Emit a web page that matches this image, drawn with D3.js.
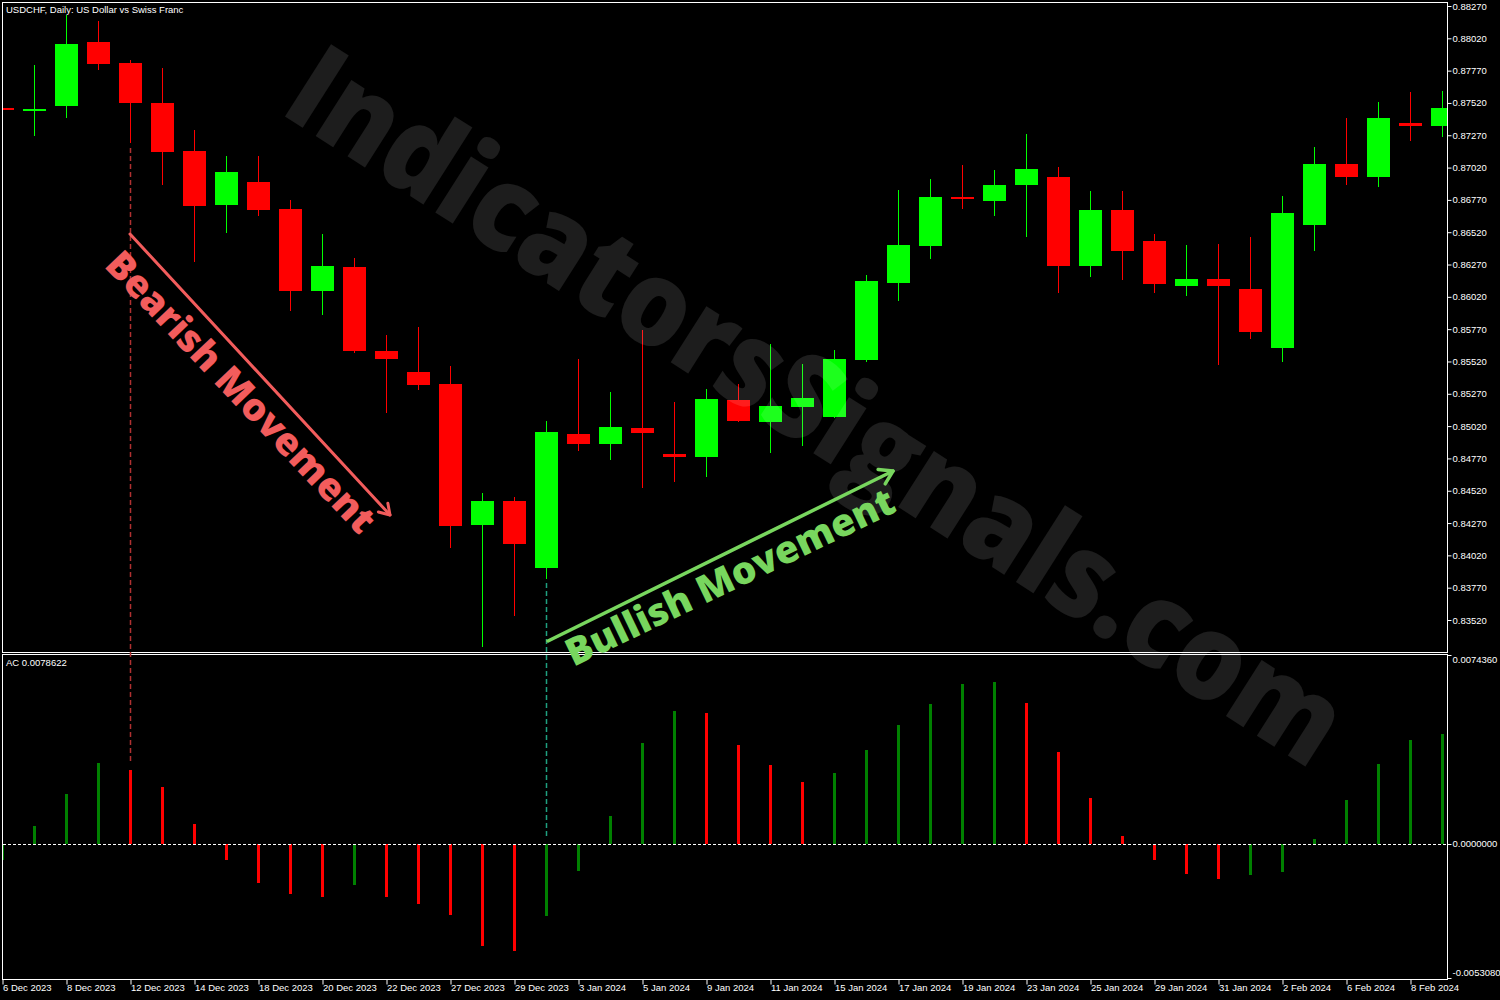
<!DOCTYPE html>
<html><head><meta charset="utf-8">
<script src="https://cdn.jsdelivr.net/npm/d3@7"></script>
<style>html,body{margin:0;padding:0;background:#000;} svg{display:block}</style>
</head><body>
<svg id="c" width="1500" height="1000"></svg>
<script>
const dates = ["6 Dec 2023","7 Dec 2023","8 Dec 2023","11 Dec 2023","12 Dec 2023","13 Dec 2023","14 Dec 2023","15 Dec 2023","18 Dec 2023","19 Dec 2023","20 Dec 2023","21 Dec 2023","22 Dec 2023","26 Dec 2023","27 Dec 2023","28 Dec 2023","29 Dec 2023","2 Jan 2024","3 Jan 2024","4 Jan 2024","5 Jan 2024","8 Jan 2024","9 Jan 2024","10 Jan 2024","11 Jan 2024","12 Jan 2024","15 Jan 2024","16 Jan 2024","17 Jan 2024","18 Jan 2024","19 Jan 2024","22 Jan 2024","23 Jan 2024","24 Jan 2024","25 Jan 2024","26 Jan 2024","29 Jan 2024","30 Jan 2024","31 Jan 2024","1 Feb 2024","2 Feb 2024","5 Feb 2024","6 Feb 2024","7 Feb 2024","8 Feb 2024","9 Feb 2024"];
const openP = [0.87481,0.87458,0.87496,0.87992,0.87829,0.87520,0.87148,0.86731,0.86909,0.86700,0.86066,0.86251,0.85601,0.85439,0.85346,0.84256,0.84441,0.83923,0.84959,0.84882,0.85006,0.84805,0.84782,0.85222,0.85052,0.85168,0.85091,0.85532,0.86127,0.86414,0.86793,0.86762,0.86885,0.86947,0.86259,0.86692,0.86452,0.86104,0.86158,0.86081,0.85625,0.86576,0.87048,0.86947,0.87365,0.87342];
const highP = [0.87485,0.87814,0.88200,0.88154,0.87852,0.87790,0.87311,0.87110,0.87110,0.86769,0.86506,0.86321,0.85725,0.85787,0.85485,0.84503,0.84472,0.85060,0.85540,0.85284,0.85764,0.85207,0.85307,0.85346,0.85656,0.85501,0.85609,0.86189,0.86847,0.86932,0.87040,0.87001,0.87280,0.87025,0.86839,0.86839,0.86506,0.86421,0.86429,0.86483,0.86800,0.87179,0.87404,0.87527,0.87605,0.87613];
const lowP = [0.87458,0.87264,0.87404,0.87775,0.87210,0.86885,0.86290,0.86514,0.86646,0.85911,0.85880,0.85586,0.85122,0.85300,0.84078,0.83312,0.83552,0.83838,0.84828,0.84758,0.84542,0.84588,0.84627,0.85052,0.84812,0.84867,0.85085,0.85516,0.85988,0.86313,0.86700,0.86646,0.86483,0.86050,0.86174,0.86151,0.86050,0.86027,0.85493,0.85694,0.85516,0.86375,0.86885,0.86870,0.87226,0.87257];
const closeP = [0.87466,0.87473,0.87976,0.87821,0.87520,0.87141,0.86723,0.86986,0.86692,0.86066,0.86259,0.85601,0.85540,0.85338,0.84248,0.84441,0.84109,0.84975,0.84882,0.85014,0.84967,0.84782,0.85230,0.85060,0.85176,0.85238,0.85540,0.86143,0.86421,0.86793,0.86777,0.86885,0.87009,0.86259,0.86692,0.86375,0.86120,0.86158,0.86104,0.85748,0.86669,0.87048,0.86947,0.87404,0.87342,0.87481];
const acValues = [-0.00065,0.00073,0.00202,0.00327,0.00299,0.00230,0.00081,-0.00065,-0.00158,-0.00202,-0.00214,-0.00166,-0.00214,-0.00242,-0.00287,-0.00412,-0.00432,-0.00291,-0.00109,0.00113,0.00408,0.00537,0.00529,0.00400,0.00319,0.00251,0.00287,0.00380,0.00481,0.00566,0.00647,0.00655,0.00570,0.00372,0.00186,0.00032,-0.00065,-0.00121,-0.00141,-0.00125,-0.00113,0.00020,0.00178,0.00323,0.00420,0.00445];
const acPrev = -0.00090;
const priceTicks = [0.88270,0.88020,0.87770,0.87520,0.87270,0.87020,0.86770,0.86520,0.86270,0.86020,0.85770,0.85520,0.85270,0.85020,0.84770,0.84520,0.84270,0.84020,0.83770,0.83520];
const acTicks = [0.0074360,0.0000000,-0.0053080];
const titleText = "USDCHF, Daily:  US Dollar vs Swiss Franc";
const acTitle = "AC 0.0078622";
const watermark = "IndicatorsSignals.com";
const bearText = "Bearish Movement";
const bullText = "Bullish Movement";

const svg = d3.select("#c");
const W = 1500, H = 1000;
const L = 2.5, R = 1447.5, PT = 2.5, PB = 652.5, AT = 654.5, AB = 979.5;
const font = "'Liberation Sans', Arial, sans-serif";

svg.append("rect").attr("width", W).attr("height", H).attr("fill", "#000");

const x = d3.scaleLinear().domain([0, dates.length - 1]).range([2.5, 1442.5]);
const y = d3.scaleLinear().domain([0.83520, 0.88270]).range([620, 6]);
const yAC = d3.scaleLinear().domain([-0.0053080, 0.0074360]).range([975, 660]);

const defs = svg.append("defs");
defs.append("clipPath").attr("id", "pc").append("rect").attr("x", 3).attr("y", 3).attr("width", 1444).attr("height", 649);
defs.append("clipPath").attr("id", "ac").append("rect").attr("x", 3).attr("y", 655).attr("width", 1444).attr("height", 324);

const idx = d3.range(dates.length);

// candles
const cg = svg.append("g").attr("clip-path", "url(#pc)");
idx.forEach(i => {
  const up = closeP[i] >= openP[i];
  const col = up ? "#00ff00" : "#ff0000";
  const cx = x(i);
  cg.append("line").attr("x1", cx).attr("x2", cx)
    .attr("y1", Math.round(y(highP[i]))).attr("y2", Math.round(y(lowP[i])))
    .attr("stroke", col).attr("stroke-width", 1);
  const t = Math.round(y(Math.max(openP[i], closeP[i])));
  const b = Math.round(y(Math.min(openP[i], closeP[i])));
  cg.append("rect").attr("x", cx - 11.5).attr("width", 23)
    .attr("y", t).attr("height", Math.max(2, b - t)).attr("fill", col);
});

// AC bars
const ag = svg.append("g").attr("clip-path", "url(#ac)");
idx.forEach(i => {
  const v = acValues[i];
  const prev = i === 0 ? acPrev : acValues[i - 1];
  const col = v > prev ? "#008000" : "#ff0000";
  const t = Math.round(yAC(Math.max(v, 0)));
  const b = Math.round(yAC(Math.min(v, 0)));
  ag.append("rect").attr("x", x(i) - 1.5).attr("width", 3)
    .attr("y", t).attr("height", Math.max(1, b - t)).attr("fill", col);
});
const zeroY = Math.round(yAC(0)) + 0.5;
svg.append("line").attr("x1", 3).attr("x2", 1447).attr("y1", zeroY).attr("y2", zeroY)
  .attr("stroke", "#fff").attr("stroke-width", 1).attr("stroke-dasharray", "3,2");

// frames
const fr = svg.append("g").attr("fill", "none").attr("stroke", "#fff").attr("stroke-width", 1);
fr.append("rect").attr("x", L).attr("y", PT).attr("width", R - L).attr("height", PB - PT);
fr.append("rect").attr("x", L).attr("y", AT).attr("width", R - L).attr("height", AB - AT);

// price axis
const pa = svg.append("g").attr("transform", `translate(${R},0)`)
  .call(d3.axisRight(y).tickValues(priceTicks).tickFormat(d3.format(".5f")).tickSize(4).tickPadding(1));
pa.select(".domain").remove();
pa.selectAll("line").attr("stroke", "#fff");
pa.selectAll("text").attr("fill", "#fff").style("font-family", font).style("font-size", "9.5px");

// AC axis
acTicks.forEach((v, k) => {
  const ty = k === 0 ? 655.5 : (k === 2 ? 978.5 : Math.round(yAC(v)) + 0.5);
  const ly = k === 0 ? 660 : (k === 2 ? 973 : yAC(v));
  svg.append("line").attr("x1", R).attr("x2", R + 4).attr("y1", ty).attr("y2", ty).attr("stroke", "#fff");
  svg.append("text").attr("x", R + 5).attr("y", ly).attr("dy", "0.35em")
    .attr("fill", "#fff").style("font-family", font).style("font-size", "9.5px")
    .text(d3.format(".7f")(v).replace("−", "-"));
});

// date axis
const da = svg.append("g").attr("transform", `translate(0,${AB})`)
  .call(d3.axisBottom(x).tickValues(d3.range(0, dates.length, 2)).tickFormat(i => dates[i]).tickSize(5).tickPadding(1));
da.select(".domain").remove();
da.selectAll("line").attr("stroke", "#fff");
da.selectAll("text").attr("fill", "#fff").attr("text-anchor", "start").attr("x", 0).attr("dy", "0.55em")
  .style("font-family", font).style("font-size", "9.5px");

// titles
svg.append("text").attr("x", 6).attr("y", 10).attr("dy", "0.35em").attr("fill", "#fff")
  .style("font-family", font).style("font-size", "9.5px").text(titleText);
svg.append("text").attr("x", 6).attr("y", 663).attr("dy", "0.35em").attr("fill", "#fff")
  .style("font-family", font).style("font-size", "9.5px").text(acTitle);

// watermark
svg.append("text").attr("transform", "translate(278,112) rotate(32.5)")
  .attr("fill", "#fff").attr("fill-opacity", 0.115)
  .attr("textLength", 1225).attr("lengthAdjust", "spacingAndGlyphs")
  .style("font-family", "'Open Sans', sans-serif").style("font-weight", 800).style("font-size", "120px")
  .text(watermark);

// dashed guide lines
svg.append("line").attr("x1", x(4)).attr("x2", x(4)).attr("y1", 148).attr("y2", 762)
  .attr("stroke", "#b03030").attr("stroke-width", 1.5).attr("stroke-dasharray", "5,3");
svg.append("line").attr("x1", x(17)).attr("x2", x(17)).attr("y1", 583).attr("y2", 838)
  .attr("stroke", "#1fa080").attr("stroke-width", 1.5).attr("stroke-dasharray", "5,3");

// annotations
const bearCol = "#f25c5c", bullCol = "#78d65e";
function arrow(x1, y1, x2, y2, col, w, head) {
  const a = Math.atan2(y2 - y1, x2 - x1);
  svg.append("line").attr("x1", x1).attr("y1", y1).attr("x2", x2).attr("y2", y2)
    .attr("stroke", col).attr("stroke-width", w).attr("stroke-linecap", "round");
  const p = [a + Math.PI * 0.82, a - Math.PI * 0.82].map(b => [x2 + head * Math.cos(b), y2 + head * Math.sin(b)]);
  svg.append("path").attr("d", `M${p[0][0]},${p[0][1]}L${x2},${y2}L${p[1][0]},${p[1][1]}`)
    .attr("fill", "none").attr("stroke", col).attr("stroke-width", w).attr("stroke-linecap", "round").attr("stroke-linejoin", "round");
}
arrow(130, 234, 390, 515, bearCol, 3, 12);
arrow(548, 641, 893, 471, bullCol, 3.5, 15);

svg.append("text").attr("transform", "translate(241,392) rotate(46.5)")
  .attr("text-anchor", "middle").attr("dy", "0.35em").attr("fill", bearCol)
  .attr("textLength", 372).attr("lengthAdjust", "spacingAndGlyphs")
  .style("font-family", "'Open Sans', sans-serif").style("font-weight", 800).style("font-size", "38px")
  .text(bearText);
svg.append("text").attr("transform", "translate(730,577) rotate(-25.7)")
  .attr("text-anchor", "middle").attr("dy", "0.35em").attr("fill", bullCol)
  .attr("textLength", 360).attr("lengthAdjust", "spacingAndGlyphs")
  .style("font-family", "'Open Sans', sans-serif").style("font-weight", 800).style("font-size", "38px")
  .text(bullText);
</script>
</body></html>
